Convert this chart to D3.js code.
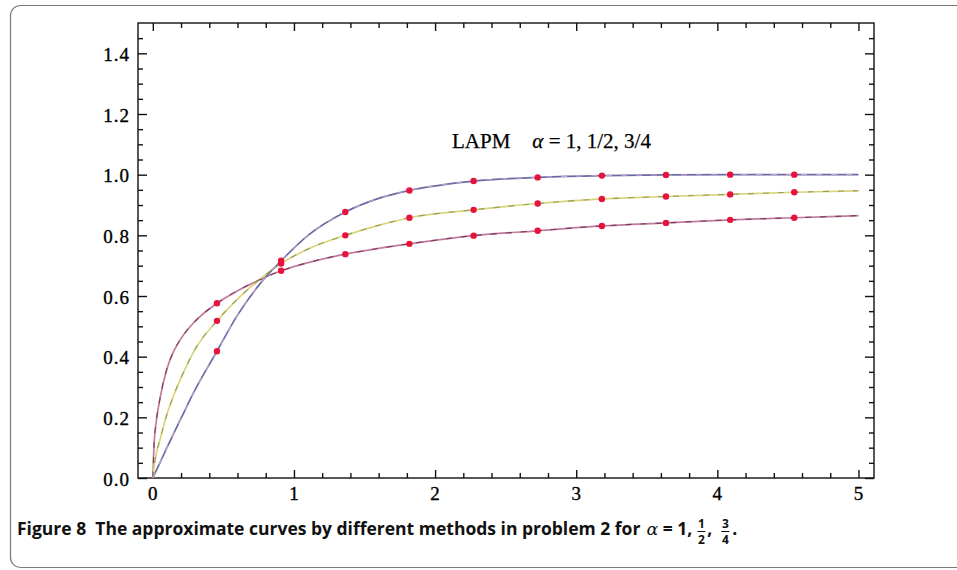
<!DOCTYPE html>
<html>
<head>
<meta charset="utf-8">
<script src="https://cdn.jsdelivr.net/npm/d3@7/dist/d3.min.js"></script>
<style>
body { margin: 0; background: #fff; }
.tick-label { font-family: "Liberation Serif", serif; font-size: 19px; fill: #000; stroke: #000; stroke-width: 0.35px; letter-spacing: 1px; }
.note { font-family: "Liberation Serif", serif; font-size: 21px; fill: #000; stroke: #000; stroke-width: 0.25px; }
.caption { font-family: "Open Sans", "Noto Sans", sans-serif; font-weight: bold; font-size: 17.5px; fill: #111; }
</style>
</head>
<body>
<script>
// curve samples
var xValues = [0, 0.01, 0.02, 0.05, 0.1, 0.15, 0.2, 0.3, 0.4545, 0.6, 0.75, 0.909, 1.1, 1.364, 1.6, 1.818, 2.273, 2.727, 3.182, 3.636, 4.091, 4.545, 5];
var alphaOne = [0, 0.01, 0.02, 0.05, 0.1, 0.149, 0.197, 0.291, 0.418, 0.537, 0.635, 0.716, 0.80, 0.877, 0.922, 0.948, 0.979, 0.991, 0.997, 0.999, 1.0, 1.0, 1.0];
var alphaHalf = [0, 0.12, 0.17, 0.26, 0.36, 0.42, 0.46, 0.517, 0.576, 0.617, 0.652, 0.683, 0.710, 0.738, 0.757, 0.772, 0.799, 0.815, 0.831, 0.841, 0.851, 0.858, 0.865];
var alphaThreeQuarter = [0, 0.04, 0.07, 0.125, 0.21, 0.275, 0.33, 0.425, 0.518, 0.59, 0.652, 0.707, 0.755, 0.80, 0.833, 0.858, 0.884, 0.905, 0.92, 0.928, 0.935, 0.942, 0.947];

// red dots (LAPM points)
var markerX = [0.4545, 0.909, 1.364, 1.818, 2.273, 2.727, 3.182, 3.636, 4.091, 4.545];
var markerOne = [0.418, 0.716, 0.877, 0.948, 0.979, 0.991, 0.997, 0.999, 1.0, 1.0];
var markerHalf = [0.576, 0.683, 0.738, 0.772, 0.799, 0.815, 0.831, 0.841, 0.851, 0.858];
var markerThreeQuarter = [0.518, 0.707, 0.80, 0.858, 0.884, 0.905, 0.92, 0.928, 0.935, 0.942];

var xTickValues = [0, 1, 2, 3, 4, 5];
var xTickLabels = ["0", "1", "2", "3", "4", "5"];
var xMinorTicks = [0.2, 0.4, 0.6, 0.8, 1.2, 1.4, 1.6, 1.8, 2.2, 2.4, 2.6, 2.8, 3.2, 3.4, 3.6, 3.8, 4.2, 4.4, 4.6, 4.8];
var yTickValues = [0, 0.2, 0.4, 0.6, 0.8, 1.0, 1.2, 1.4];
var yTickLabels = ["0.0", "0.2", "0.4", "0.6", "0.8", "1.0", "1.2", "1.4"];
var yMinorTicks = [0.05, 0.1, 0.15, 0.25, 0.3, 0.35, 0.45, 0.5, 0.55, 0.65, 0.7, 0.75, 0.85, 0.9, 0.95, 1.05, 1.1, 1.15, 1.25, 1.3, 1.35, 1.45];

var margin = {top: 23, right: 83, bottom: 92, left: 138}
    , width = 957 - margin.left - margin.right
    , height = 570 - margin.top - margin.bottom;

var series = [
    {name: "1/2", values: alphaHalf, dots: markerHalf, color: "#c07c9c", over: "#7a3a5e"},
    {name: "3/4", values: alphaThreeQuarter, dots: markerThreeQuarter, color: "#dcd47a", over: "#8fa05c"},
    {name: "1", values: alphaOne, dots: markerOne, color: "#6a6aa6", over: "#c4a4c8"}
];

var root = d3.select("body").append("svg")
    .attr("width", 957)
    .attr("height", 570);

// rounded figure border, runs off the right edge
root.append("rect")
    .attr("x", 10.5)
    .attr("y", 5.5)
    .attr("width", 1000)
    .attr("height", 562)
    .attr("rx", 10)
    .attr("fill", "none")
    .attr("stroke", "#7a7a7a")
    .attr("stroke-width", 1.2);

var svg = root.append("g")
    .attr("transform", "translate(" + margin.left + "," + margin.top + ")");

var xScale = d3.scaleLinear().domain([-0.105, 5.11]).range([0, width]);
var yScale = d3.scaleLinear().domain([0, 1.5]).range([height, 0]);

function tickAxis(axis, values, size, labels) {
    return axis.tickValues(values).tickSize(size).tickFormat(function(d, i) {
        return labels ? labels[i] : "";
    });
}

// bottom
svg.append("g").attr("transform", "translate(0," + height + ")")
    .call(tickAxis(d3.axisBottom(xScale), xMinorTicks, -5));
svg.append("g").attr("class", "x-major").attr("transform", "translate(0," + height + ")")
    .call(tickAxis(d3.axisBottom(xScale), xTickValues, -8, xTickLabels).tickPadding(9));
// top
svg.append("g").call(tickAxis(d3.axisTop(xScale), xMinorTicks, -5));
svg.append("g").call(tickAxis(d3.axisTop(xScale), xTickValues, -8));
// left
svg.append("g").call(tickAxis(d3.axisLeft(yScale), yMinorTicks, -5));
svg.append("g").attr("class", "y-major")
    .call(tickAxis(d3.axisLeft(yScale), yTickValues, -9, yTickLabels).tickPadding(8));
// right
svg.append("g").attr("transform", "translate(" + width + ",0)")
    .call(tickAxis(d3.axisRight(yScale), yMinorTicks, -5));
svg.append("g").attr("transform", "translate(" + width + ",0)")
    .call(tickAxis(d3.axisRight(yScale), yTickValues, -9));

svg.selectAll(".domain").remove();
svg.selectAll(".tick line").attr("stroke", "#111").attr("stroke-width", 1.4);
svg.selectAll(".tick text").attr("class", "tick-label").attr("font-family", null).attr("font-size", null).attr("fill", null);
svg.selectAll(".y-major .tick text").attr("dy", "0.38em");

svg.append("rect")
    .attr("width", width)
    .attr("height", height)
    .attr("fill", "none")
    .attr("stroke", "#111")
    .attr("stroke-width", 1.4);

var line = d3.line()
    .x(function(d, i) { return xScale(xValues[i]); })
    .y(function(d) { return yScale(d); })
    .curve(d3.curveMonotoneX);

svg.selectAll(".curve")
    .data(series)
    .enter()
    .append("path")
    .attr("class", "curve")
    .attr("d", function(d) { return line(d.values); })
    .attr("fill", "none")
    .attr("stroke", function(d) { return d.color; })
    .attr("stroke-width", 1.7);

svg.selectAll(".curve-over")
    .data(series)
    .enter()
    .append("path")
    .attr("class", "curve-over")
    .attr("d", function(d) { return line(d.values); })
    .attr("fill", "none")
    .attr("stroke", function(d) { return d.over; })
    .attr("stroke-width", 1.1)
    .attr("stroke-dasharray", "6,9");

series.forEach(function(s) {
    svg.selectAll(null)
        .data(s.dots)
        .enter()
        .append("circle")
        .attr("cx", function(d, i) { return xScale(markerX[i]); })
        .attr("cy", function(d) { return yScale(d); })
        .attr("r", 3.2)
        .attr("fill", "#e8123c");
});

// in-plot label
var note = svg.append("text")
    .attr("class", "note")
    .attr("x", 314)
    .attr("y", 125);
note.append("tspan").text("LAPM");
note.append("tspan").attr("dx", 22).attr("font-style", "italic").text("\u03b1");
note.append("tspan").text(" = 1, 1/2, 3/4");

// caption, pieces laid out one after another
var capMain = root.append("text")
    .attr("class", "caption")
    .attr("x", 17)
    .attr("y", 535)
    .text("Figure 8\u00a0\u00a0The approximate curves by different methods in problem 2 for");
var mainEnd = 17 + capMain.node().getComputedTextLength();

var capTail = root.append("text")
    .attr("class", "caption")
    .attr("x", mainEnd + 6)
    .attr("y", 535);
capTail.append("tspan").attr("font-family", "DejaVu Serif").attr("font-style", "italic").attr("font-weight", "normal").text("\u03b1");
capTail.append("tspan").text(" = 1,");
var capEnd = mainEnd + 6 + capTail.node().getComputedTextLength();

function fraction(x, num, den) {
    root.append("text").attr("class", "caption").attr("x", x).attr("y", 528)
        .attr("text-anchor", "middle").style("font-size", "12px").text(num);
    root.append("text").attr("class", "caption").attr("x", x).attr("y", 544)
        .attr("text-anchor", "middle").style("font-size", "12px").text(den);
    root.append("line").attr("x1", x - 4).attr("x2", x + 4).attr("y1", 531.5).attr("y2", 531.5)
        .attr("stroke", "#111").attr("stroke-width", 1);
}
fraction(capEnd + 9, "1", "2");
root.append("text").attr("class", "caption").attr("x", capEnd + 15).attr("y", 535).text(",");
fraction(capEnd + 33, "3", "4");
root.append("text").attr("class", "caption").attr("x", capEnd + 40).attr("y", 535).text(".");
</script>
</body>
</html>
